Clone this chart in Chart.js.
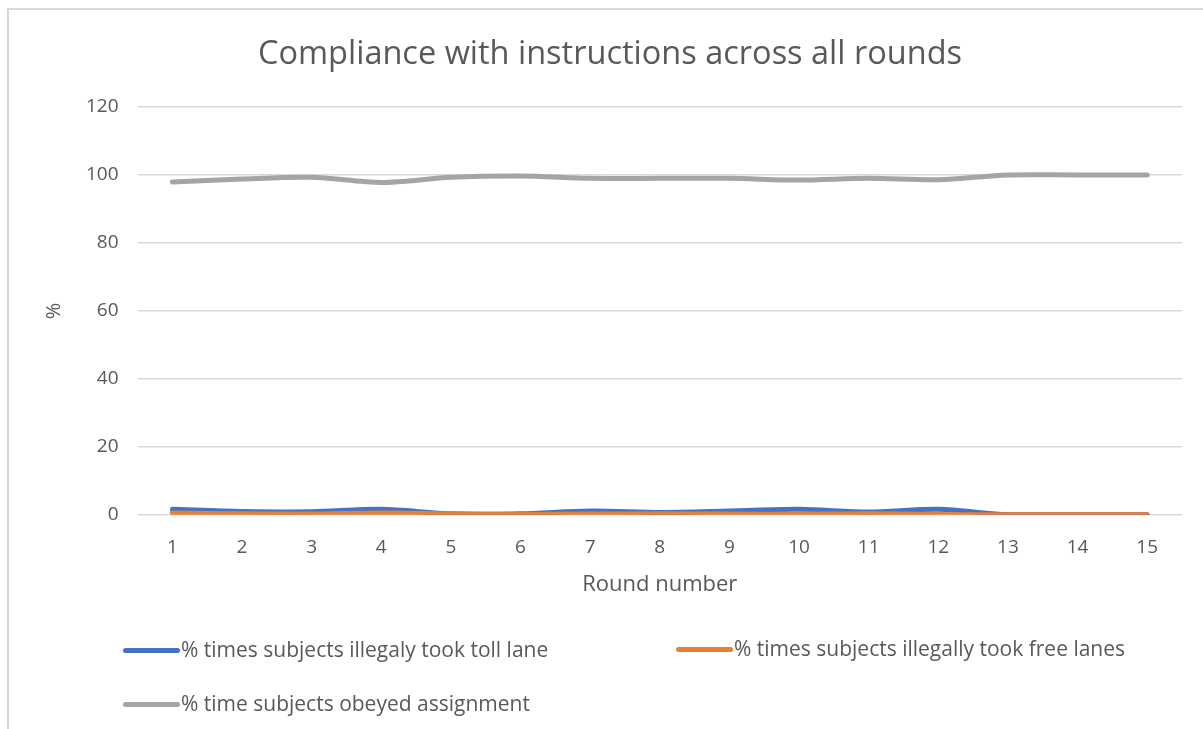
<!DOCTYPE html>
<html>
<head>
<meta charset="utf-8">
<script src="https://cdn.jsdelivr.net/npm/chart.js@4"></script>
<style>
  html, body { margin: 0; padding: 0; background: #fff; }
  #wrap { position: relative; width: 1203px; height: 729px; overflow: hidden; }
  #frame { position: absolute; left: 7px; top: 8px; width: 1300px; height: 800px;
           border-left: 2px solid #d9d9d9; border-top: 2px solid #d9d9d9; }
  canvas { position: absolute; left: 0; top: 0; }
  .leg { position: absolute; font-family: "Open Sans", sans-serif; font-size: 21px;
         color: #595959; white-space: nowrap; line-height: 22px; }
  .leg i { display: inline-block; width: 57px; height: 5px; border-radius: 3px;
           vertical-align: middle; margin-right: 1px; position: relative; top: -1px; }
</style>
</head>
<body>
<div id="wrap">
  <div id="frame"></div>
  <canvas id="complianceChart" width="1203" height="729"></canvas>
  <div id="legend"></div>
</div>
<script>
var rounds = ["1", "2", "3", "4", "5", "6", "7", "8", "9", "10", "11", "12", "13", "14", "15"];
var tollLane = [1.6, 1.0, 0.9, 1.6, 0.3, 0.3, 1.1, 0.7, 1.1, 1.6, 0.8, 1.6, 0, 0, 0];
var freeLanes = [0.5, 0.3, 0.2, 0.5, 0.3, 0.1, 0.2, 0.3, 0.2, 0.2, 0.3, 0.1, 0, 0, 0];
var obeyed = [97.9, 98.8, 99.3, 97.8, 99.3, 99.7, 99.0, 99.0, 99.0, 98.5, 99.0, 98.6, 100, 100, 100];
var yTicks = [0, 20, 40, 60, 80, 100, 120];

var seriesNames = [
  "% times subjects illegaly took toll lane",
  "% times subjects illegally took free lanes",
  "% time subjects obeyed assignment"
];
var seriesColors = ["#4472C4", "#ED7D31", "#A5A5A5"];

var font = "'Open Sans', sans-serif";
var grey = "#595959";

var ctx = document.getElementById("complianceChart");

var myLineChart = new Chart(ctx, {
  type: "line",
  data: {
    labels: rounds,
    datasets: [
      { label: seriesNames[0], data: tollLane, borderColor: seriesColors[0], order: 1 },
      { label: seriesNames[1], data: freeLanes, borderColor: seriesColors[1], order: 0 },
      { label: seriesNames[2], data: obeyed, borderColor: seriesColors[2], order: 2 }
    ]
  },
  options: {
    responsive: false,
    animation: false,
    layout: { padding: { left: 38, right: 21, top: 35, bottom: 127 } },
    elements: {
      line: { borderWidth: 5, tension: 0.3, borderCapStyle: "round", borderJoinStyle: "round" },
      point: { radius: 0 }
    },
    plugins: {
      legend: { display: false },
      tooltip: { enabled: false },
      title: {
        display: true,
        text: "Compliance with instructions across all rounds",
        color: grey,
        font: { family: font, size: 32.5, weight: "normal" },
        padding: { top: 0, bottom: 33 }
      }
    },
    scales: {
      x: {
        offset: true,
        grid: { display: false },
        border: { display: false },
        ticks: { color: grey, font: { family: font, size: 19 }, padding: 13 },
        title: { display: true, text: "Round number", color: grey,
                 font: { family: font, size: 22 }, padding: { top: 0 } }
      },
      y: {
        min: 0,
        max: 120,
        afterBuildTicks: function (axis) {
          axis.ticks = yTicks.map(function (v) { return { value: v }; });
        },
        grid: { color: "#d9d9d9", lineWidth: 1.5, drawTicks: false },
        border: { display: false },
        ticks: { color: grey, font: { family: font, size: 19 }, padding: 19 },
        title: { display: true, text: "%", color: grey,
                 font: { family: font, size: 20 }, padding: { bottom: 1 } }
      }
    }
  }
});

// legend laid out like the original (two rows, left aligned)
var legendPos = [[123, 638], [676, 637], [123, 692]];
var legendDiv = document.getElementById("legend");
seriesNames.forEach(function (name, i) {
  var d = document.createElement("div");
  d.className = "leg";
  d.style.left = legendPos[i][0] + "px";
  d.style.top = legendPos[i][1] + "px";
  d.innerHTML = '<i style="background:' + seriesColors[i] + '"></i>' + name;
  legendDiv.appendChild(d);
});
</script>
</body>
</html>
